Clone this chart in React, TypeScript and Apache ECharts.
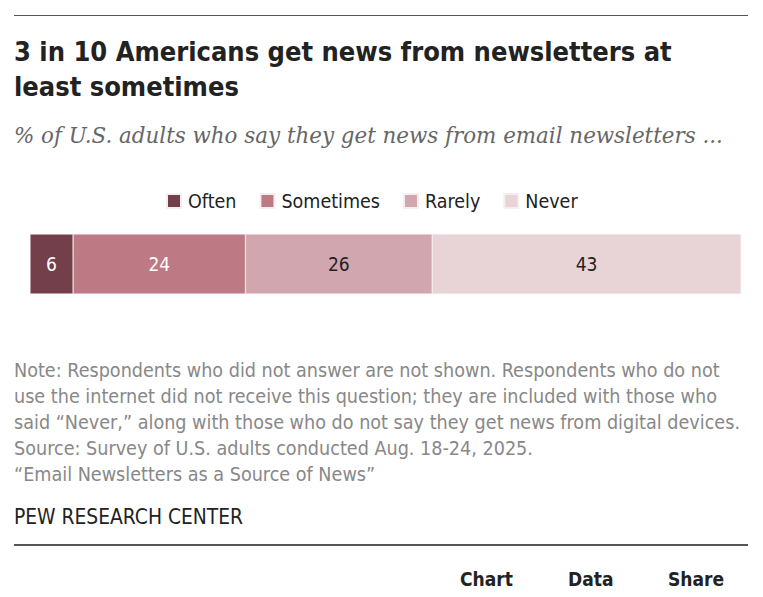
import React, { useEffect, useRef } from "react";
import * as echarts from "echarts";

const categories = ["Email newsletters"];
const seriesNames = ["Often", "Sometimes", "Rarely", "Never"];
const often = [6];
const sometimes = [24];
const rarely = [26];
const never = [43];
const seriesColors = ["#733f4a", "#bd7a85", "#d1a6ae", "#e8d3d7"];
const labelColors = ["#ffffff", "#ffffff", "#222222", "#222222"];

const titleLines = [
  "3 in 10 Americans get news from newsletters at",
  "least sometimes",
];
const subtitle = "% of U.S. adults who say they get news from email newsletters ...";
const noteLines = [
  "Note: Respondents who did not answer are not shown. Respondents who do not",
  "use the internet did not receive this question; they are included with those who",
  "said \u201cNever,\u201d along with those who do not say they get news from digital devices.",
  "Source: Survey of U.S. adults conducted Aug. 18-24, 2025.",
  "\u201cEmail Newsletters as a Source of News\u201d",
];
const sourceOrg = "PEW RESEARCH CENTER";
const footerLinks = ["Chart", "Data", "Share"];

const NARROW = "'DejaVu Sans Condensed', 'Roboto', sans-serif";
const SERIF = "'DejaVu Serif', 'Liberation Serif', serif";

function line(x: number, y: number, text: string, font: string, fill: string) {
  return {
    type: "text",
    x,
    y,
    style: { text, font, fill, verticalAlign: "middle", align: "left" },
  };
}

export default function App() {
  const ref = useRef<HTMLDivElement>(null);

  useEffect(() => {
    if (!ref.current) return;
    const chart = echarts.init(ref.current, undefined, { renderer: "svg" });
    const values = [often, sometimes, rarely, never];

    const graphic: any[] = [
      { type: "line", shape: { x1: 14, y1: 15.5, x2: 748, y2: 15.5 }, style: { stroke: "#555", lineWidth: 1 } },
      ...titleLines.map((t, i) => line(14, 51 + i * 35, t, `bold 27px ${NARROW}`, "#222")),
      line(14, 135, subtitle, `italic 21.4px ${SERIF}`, "#666"),
      ...noteLines.map((t, i) => line(14, 370 + i * 26, t, `19.6px ${NARROW}`, "#888")),
      line(14, 517, sourceOrg, `20.8px ${NARROW}`, "#222"),
      { type: "line", shape: { x1: 14, y1: 545, x2: 748, y2: 545 }, style: { stroke: "#555", lineWidth: 2 } },
      ...footerLinks.map((t, i) => line([460, 568, 668][i], 579, t, `bold 19px ${NARROW}`, "#222")),
    ];

    chart.setOption({
      animation: false,
      legend: {
        left: 166,
        top: 191,
        padding: 0,
        icon: "rect",
        itemWidth: 14,
        itemHeight: 14,
        itemGap: 23,
        selectedMode: false,
        textStyle: { fontFamily: NARROW, fontSize: 19.5, color: "#222", padding: [0, 0, 0, 2], lineHeight: 14 },
        data: seriesNames,
      },
      grid: { left: 30, right: 22, top: 234, height: 60 },
      xAxis: { type: "value", min: 0, max: 99, show: false },
      yAxis: { type: "category", data: categories, show: false },
      series: seriesNames.map((name, i) => ({
        name,
        type: "bar",
        stack: "total",
        barWidth: 60,
        data: values[i],
        itemStyle: { color: seriesColors[i], borderColor: "#f4eef0", borderWidth: 0.5 },
        label: {
          show: true,
          position: "inside",
          fontFamily: NARROW,
          fontSize: 19,
          color: labelColors[i],
        },
      })),
      graphic,
    });
    return () => chart.dispose();
  }, []);

  return (
    <div
      ref={ref}
      style={{ position: "fixed", left: 0, top: 0, width: 763, height: 597, background: "#fff" }}
    />
  );
}
